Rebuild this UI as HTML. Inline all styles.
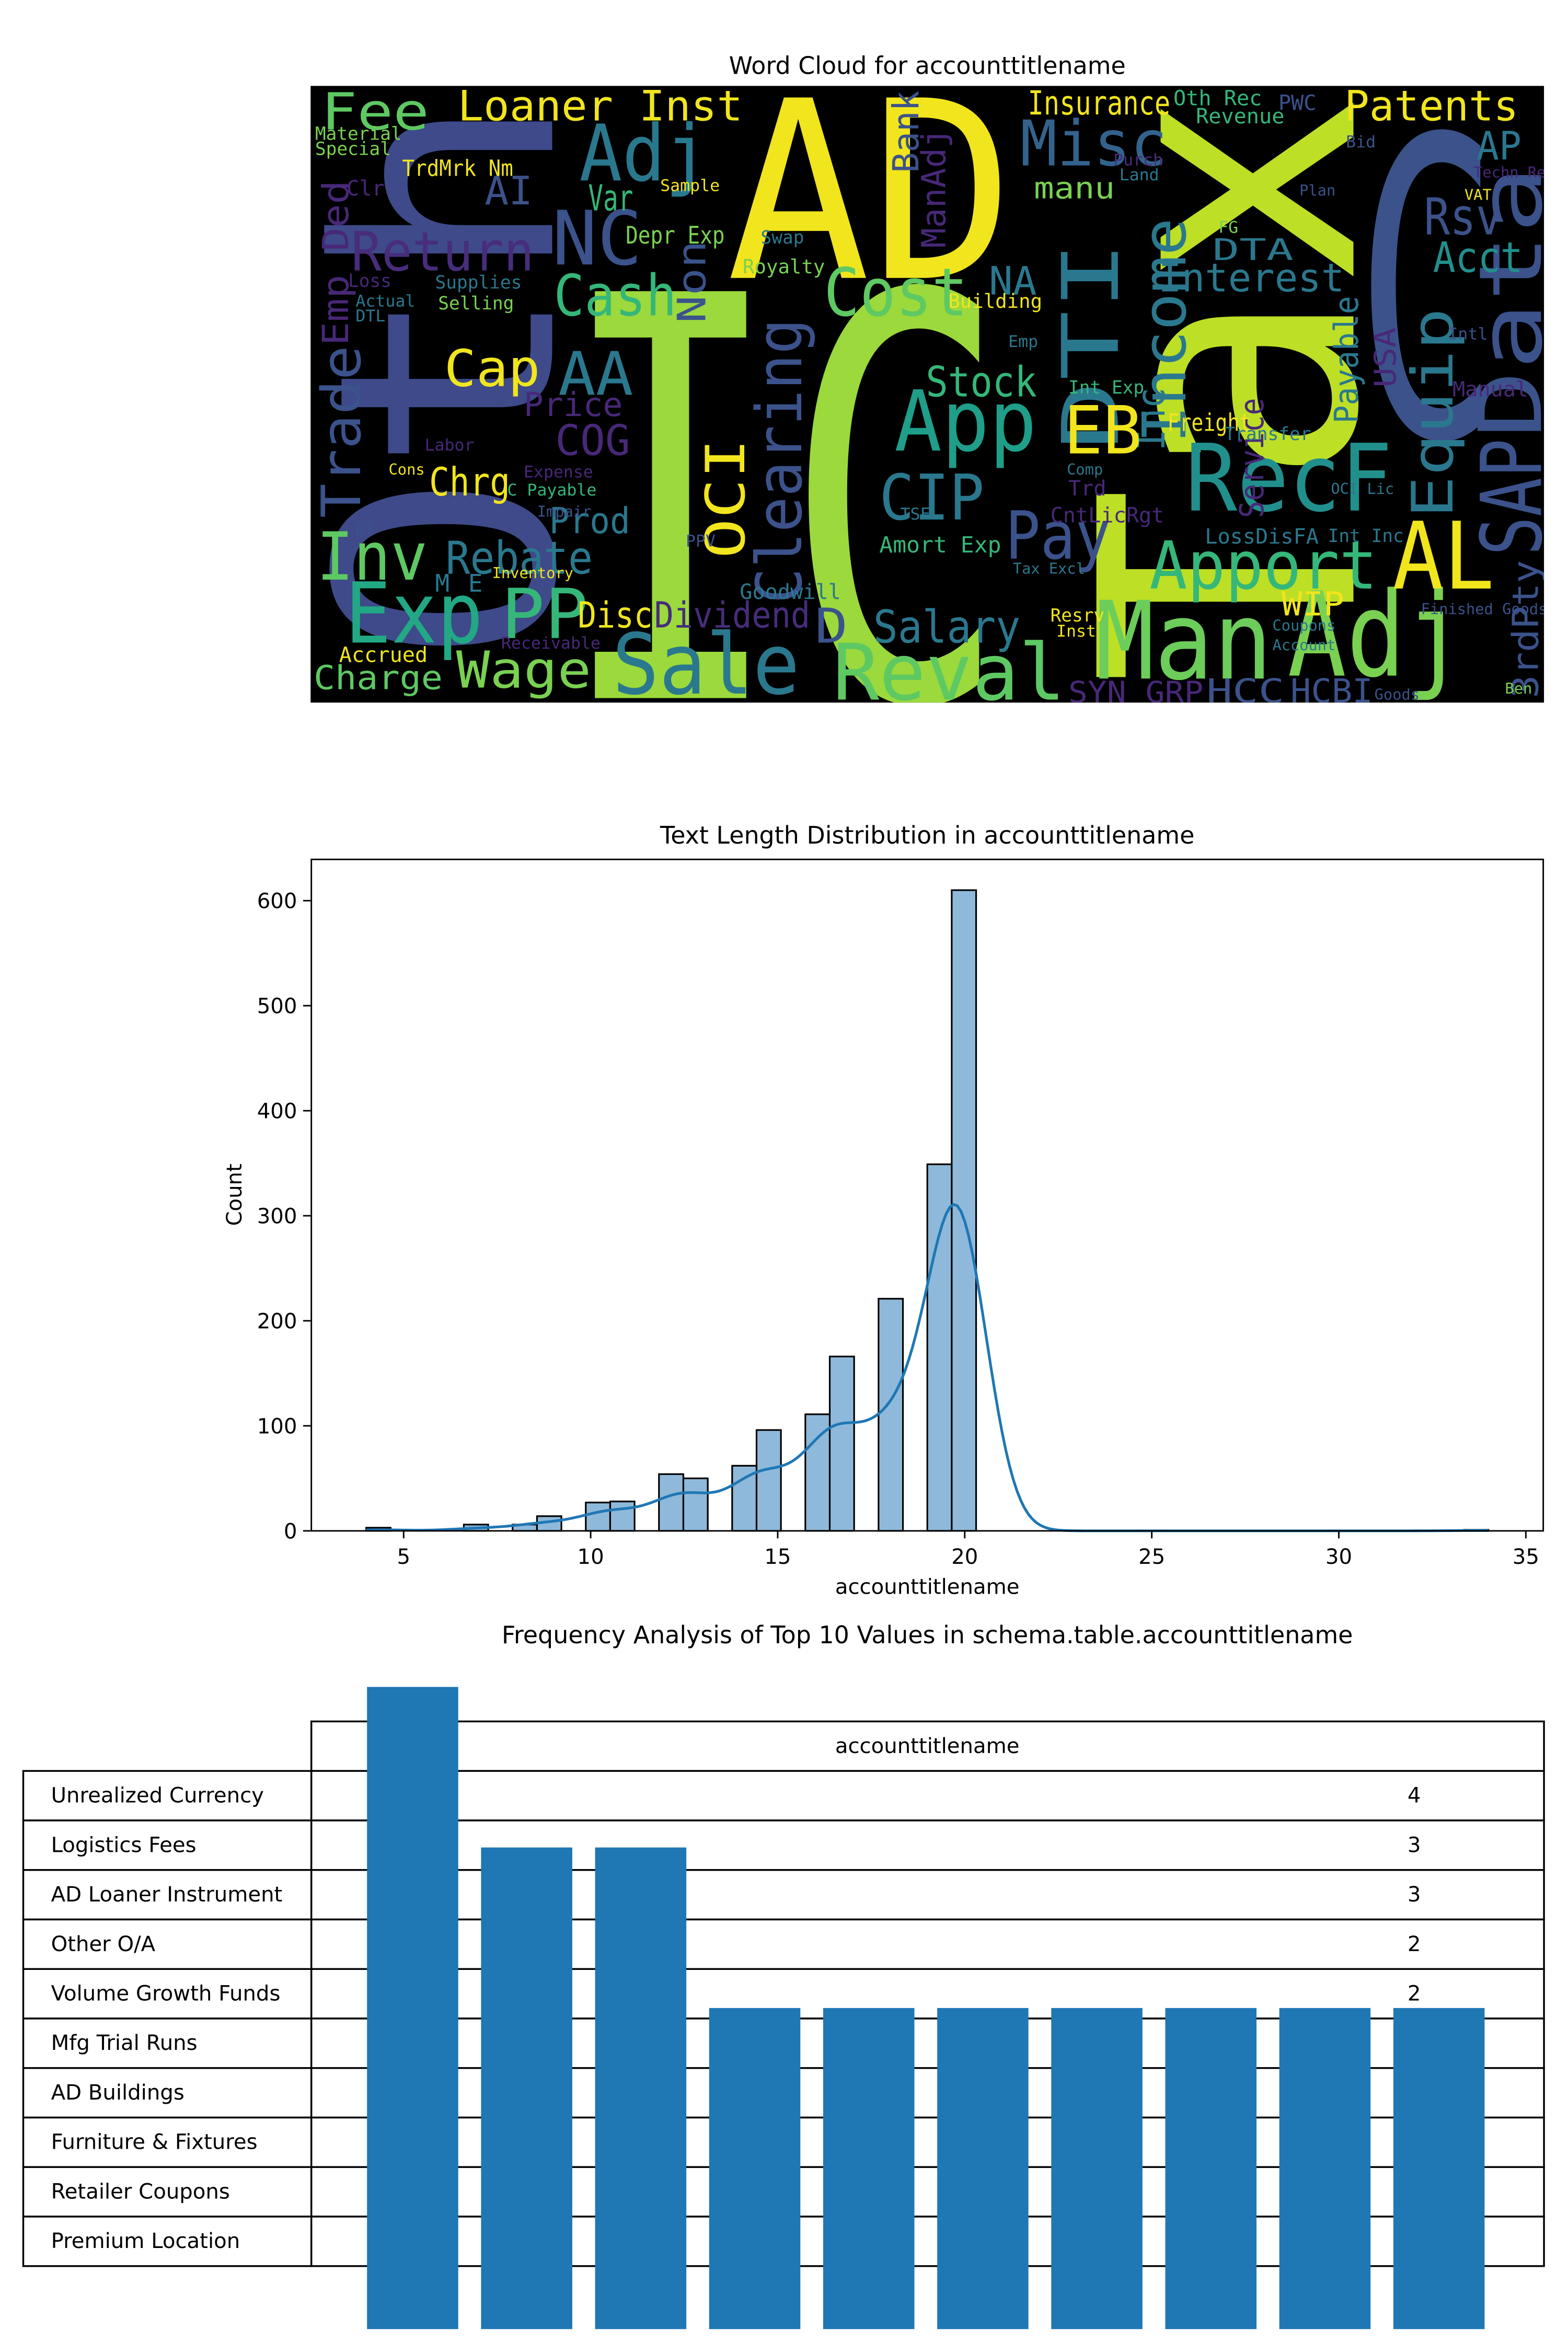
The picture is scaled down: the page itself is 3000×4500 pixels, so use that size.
<!DOCTYPE html>
<html><head><meta charset="utf-8"><style>
html,body{margin:0;padding:0;background:#fff;}
svg{display:block;}
text{font-family:"DejaVu Sans","Liberation Sans",sans-serif;}
.wc text{font-family:"DejaVu Sans Mono","Liberation Mono",monospace;}
</style></head><body>
<svg id="root" xmlns="http://www.w3.org/2000/svg" width="3000" height="4500" viewBox="0 0 1045 1567">
<defs><clipPath id="wcclip"><rect x="207" y="57" width="822" height="411"/></clipPath></defs>
<rect x="0" y="0" width="1045" height="1567" fill="#fff"/>
<!-- Word cloud -->
<text x="618" y="49" font-size="16" text-anchor="middle">Word Cloud for accounttitlename</text>
<rect x="207" y="57" width="822" height="411" fill="#000"/>
<g class="wc" clip-path="url(#wcclip)">
<text transform="translate(368,442) rotate(-90)" font-size="200" fill="#3e4a89" textLength="380" lengthAdjust="spacingAndGlyphs">Oth</text>
<text transform="translate(902,456) rotate(-90)" font-size="235" fill="#bddf26" textLength="396" lengthAdjust="spacingAndGlyphs">Tax</text>
<text x="372" y="465" font-size="372" fill="#9bd93c" textLength="300" lengthAdjust="spacingAndGlyphs">IC</text>
<text x="484" y="185" font-size="165" fill="#f1e51d" textLength="192" lengthAdjust="spacingAndGlyphs">AD</text>
<text x="903" y="290" font-size="275" fill="#3b528b" textLength="96" lengthAdjust="spacingAndGlyphs">C</text>
<text transform="translate(1027,292) rotate(-90)" font-size="58" fill="#3b528b" textLength="182" lengthAdjust="spacingAndGlyphs">Data</text>
<text transform="translate(1027,370) rotate(-90)" font-size="56" fill="#3b528b" textLength="78" lengthAdjust="spacingAndGlyphs">SAP</text>
<text x="790" y="340" font-size="62" fill="#21908d" textLength="138" lengthAdjust="spacingAndGlyphs">RecF</text>
<text x="730" y="452" font-size="72" fill="#6ccd5a" textLength="118" lengthAdjust="spacingAndGlyphs">Man</text>
<text x="858" y="450" font-size="78" fill="#7ad151" textLength="118" lengthAdjust="spacingAndGlyphs">Adj</text>
<text x="408" y="462" font-size="56" fill="#2a788e" textLength="125" lengthAdjust="spacingAndGlyphs">Sale</text>
<text x="555" y="466" font-size="52" fill="#5ec962" textLength="155" lengthAdjust="spacingAndGlyphs">Reval</text>
<text x="230" y="428" font-size="56" fill="#22a884" textLength="92" lengthAdjust="spacingAndGlyphs">Exp</text>
<text x="928" y="392" font-size="62" fill="#f1e51d" textLength="68" lengthAdjust="spacingAndGlyphs">AL</text>
<text x="766" y="392" font-size="44" fill="#35b779" textLength="152" lengthAdjust="spacingAndGlyphs">Apport</text>
<text x="596" y="300" font-size="56" fill="#1f9e89" textLength="95" lengthAdjust="spacingAndGlyphs">App</text>
<text x="586" y="346" font-size="42" fill="#2a788e" textLength="70" lengthAdjust="spacingAndGlyphs">CIP</text>
<text x="386" y="120" font-size="52" fill="#2a788e" textLength="86" lengthAdjust="spacingAndGlyphs">Adj</text>
<text x="368" y="176" font-size="50" fill="#3b528b" textLength="60" lengthAdjust="spacingAndGlyphs">NC</text>
<text x="680" y="110" font-size="42" fill="#33638d" textLength="98" lengthAdjust="spacingAndGlyphs">Misc</text>
<text transform="translate(745,300) rotate(-90)" font-size="52" fill="#2a788e" textLength="140" lengthAdjust="spacingAndGlyphs">DTI</text>
<text transform="translate(790,295) rotate(-90)" font-size="40" fill="#2a788e" textLength="150" lengthAdjust="spacingAndGlyphs">Income</text>
<text transform="translate(968,345) rotate(-90)" font-size="38" fill="#2a788e" textLength="140" lengthAdjust="spacingAndGlyphs">Equip</text>
<text x="549" y="210" font-size="44" fill="#5ec962" textLength="96" lengthAdjust="spacingAndGlyphs">Cost</text>
<text x="369" y="210" font-size="38" fill="#35b779" textLength="82" lengthAdjust="spacingAndGlyphs">Cash</text>
<text x="234" y="180" font-size="36" fill="#472d7b" textLength="122" lengthAdjust="spacingAndGlyphs">Return</text>
<text transform="translate(240,345) rotate(-90)" font-size="36" fill="#3b528b" textLength="115" lengthAdjust="spacingAndGlyphs">Trade</text>
<text transform="translate(232,230) rotate(-90)" font-size="24" fill="#482878" textLength="110" lengthAdjust="spacingAndGlyphs">Emp Ded</text>
<text transform="translate(534,402) rotate(-90)" font-size="42" fill="#3b528b" textLength="190" lengthAdjust="spacingAndGlyphs">Clearing</text>
<text transform="translate(496,372) rotate(-90)" font-size="36" fill="#f1e51d" textLength="80" lengthAdjust="spacingAndGlyphs">OCI</text>
<text transform="translate(470,215) rotate(-90)" font-size="26" fill="#3b528b" textLength="55" lengthAdjust="spacingAndGlyphs">Non</text>
<text transform="translate(612,115) rotate(-90)" font-size="24" fill="#3b528b" textLength="55" lengthAdjust="spacingAndGlyphs">Bank</text>
<text transform="translate(630,165) rotate(-90)" font-size="22" fill="#482878" textLength="80" lengthAdjust="spacingAndGlyphs">ManAdj</text>
<text transform="translate(842,345) rotate(-90)" font-size="22" fill="#482878" textLength="80" lengthAdjust="spacingAndGlyphs">Service</text>
<text transform="translate(776,300) rotate(-90)" font-size="26" fill="#2a788e" textLength="42" lengthAdjust="spacingAndGlyphs">Inc</text>
<text transform="translate(905,282) rotate(-90)" font-size="22" fill="#2a788e" textLength="85" lengthAdjust="spacingAndGlyphs">Payable</text>
<text transform="translate(930,258) rotate(-90)" font-size="20" fill="#482878" textLength="40" lengthAdjust="spacingAndGlyphs">USA</text>
<text transform="translate(1025,465) rotate(-90)" font-size="24" fill="#3b528b" textLength="92" lengthAdjust="spacingAndGlyphs">3rdPty</text>
<text x="214" y="86" font-size="34" fill="#5ec962" textLength="72" lengthAdjust="spacingAndGlyphs">Fee</text>
<text x="305" y="80" font-size="28" fill="#f1e51d" textLength="190" lengthAdjust="spacingAndGlyphs">Loaner Inst</text>
<text x="685" y="76" font-size="22" fill="#f1e51d" textLength="95" lengthAdjust="spacingAndGlyphs">Insurance</text>
<text x="896" y="80" font-size="28" fill="#f1e51d" textLength="116" lengthAdjust="spacingAndGlyphs">Patents</text>
<text x="211" y="386" font-size="44" fill="#5ec962" textLength="74" lengthAdjust="spacingAndGlyphs">Inv</text>
<text x="334" y="425" font-size="46" fill="#35b779" textLength="58" lengthAdjust="spacingAndGlyphs">PP</text>
<text x="304" y="458" font-size="34" fill="#7ad151" textLength="90" lengthAdjust="spacingAndGlyphs">Wage</text>
<text x="209" y="459" font-size="22" fill="#5ec962" textLength="86" lengthAdjust="spacingAndGlyphs">Charge</text>
<text x="297" y="382" font-size="30" fill="#2a788e" textLength="98" lengthAdjust="spacingAndGlyphs">Rebate</text>
<text x="670" y="372" font-size="44" fill="#3b528b" textLength="70" lengthAdjust="spacingAndGlyphs">Pay</text>
<text x="582" y="428" font-size="30" fill="#2a788e" textLength="98" lengthAdjust="spacingAndGlyphs">Salary</text>
<text x="436" y="418" font-size="24" fill="#472d7b" textLength="104" lengthAdjust="spacingAndGlyphs">Dividend</text>
<text x="543" y="428" font-size="32" fill="#3b528b" textLength="22" lengthAdjust="spacingAndGlyphs">D</text>
<text x="709" y="302" font-size="44" fill="#f1e51d" textLength="52" lengthAdjust="spacingAndGlyphs">EB</text>
<text x="296" y="257" font-size="34" fill="#f1e51d" textLength="64" lengthAdjust="spacingAndGlyphs">Cap</text>
<text x="372" y="263" font-size="40" fill="#2a788e" textLength="50" lengthAdjust="spacingAndGlyphs">AA</text>
<text x="370" y="303" font-size="28" fill="#482878" textLength="50" lengthAdjust="spacingAndGlyphs">COG</text>
<text x="286" y="330" font-size="26" fill="#f1e51d" textLength="54" lengthAdjust="spacingAndGlyphs">Chrg</text>
<text x="366" y="355" font-size="24" fill="#2a788e" textLength="54" lengthAdjust="spacingAndGlyphs">Prod</text>
<text x="617" y="264" font-size="28" fill="#35b779" textLength="74" lengthAdjust="spacingAndGlyphs">Stock</text>
<text x="772" y="194" font-size="26" fill="#2a788e" textLength="124" lengthAdjust="spacingAndGlyphs">Interest</text>
<text x="949" y="156" font-size="34" fill="#3b528b" textLength="52" lengthAdjust="spacingAndGlyphs">Rsv</text>
<text x="955" y="181" font-size="28" fill="#21908d" textLength="60" lengthAdjust="spacingAndGlyphs">Acct</text>
<text x="984" y="106" font-size="26" fill="#2a788e" textLength="30" lengthAdjust="spacingAndGlyphs">AP</text>
<text x="854" y="410" font-size="22" fill="#f1e51d" textLength="42" lengthAdjust="spacingAndGlyphs">WIP</text>
<text x="860" y="468" font-size="22" fill="#3b528b" textLength="55" lengthAdjust="spacingAndGlyphs">HCBI</text>
<text x="712" y="468" font-size="20" fill="#482878" textLength="90" lengthAdjust="spacingAndGlyphs">SYN GRP</text>
<text x="804" y="468" font-size="22" fill="#3b528b" textLength="52" lengthAdjust="spacingAndGlyphs">HCC</text>
<text x="385" y="418" font-size="24" fill="#f1e51d" textLength="50" lengthAdjust="spacingAndGlyphs">Disc</text>
<text x="392" y="140" font-size="24" fill="#35b779" textLength="30" lengthAdjust="spacingAndGlyphs">Var</text>
<text x="323" y="136" font-size="26" fill="#3b528b" textLength="32" lengthAdjust="spacingAndGlyphs">AI</text>
<text x="659" y="196" font-size="26" fill="#2a788e" textLength="32" lengthAdjust="spacingAndGlyphs">NA</text>
<text x="349" y="277" font-size="22" fill="#482878" textLength="66" lengthAdjust="spacingAndGlyphs">Price</text>
<text x="689" y="132" font-size="20" fill="#7ad151" textLength="54" lengthAdjust="spacingAndGlyphs">manu</text>
<text x="808" y="173" font-size="20" fill="#2a788e" textLength="54" lengthAdjust="spacingAndGlyphs">DTA</text>
<text x="778" y="287" font-size="16" fill="#f1e51d" textLength="56" lengthAdjust="spacingAndGlyphs">Freight</text>
<text x="417" y="162" font-size="16" fill="#7ad151" textLength="66" lengthAdjust="spacingAndGlyphs">Depr Exp</text>
<text x="268" y="117" font-size="15" fill="#f1e51d" textLength="74" lengthAdjust="spacingAndGlyphs">TrdMrk Nm</text>
<text x="495" y="182" font-size="13" fill="#7ad151">Royalty</text>
<text x="632" y="205" font-size="13" fill="#f1e51d">Building</text>
<text x="586" y="368" font-size="15" fill="#35b779">Amort Exp</text>
<text x="493" y="399" font-size="14" fill="#2a788e">Goodwill</text>
<text x="968" y="264" font-size="14" fill="#482878">Manual</text>
<text x="885" y="361" font-size="12" fill="#2a788e">Int Inc</text>
<text x="700" y="348" font-size="14" fill="#482878">CntLicRgt</text>
<text x="803" y="362" font-size="14" fill="#2a788e">LossDisFA</text>
<text x="226" y="441" font-size="14" fill="#f1e51d">Accrued</text>
<text x="210" y="103" font-size="12" fill="#7ad151">Special</text>
<text x="210" y="93" font-size="12" fill="#7ad151">Material</text>
<text x="290" y="192" font-size="12" fill="#2a788e">Supplies</text>
<text x="292" y="206" font-size="12" fill="#7ad151">Selling</text>
<text x="232" y="191" font-size="12" fill="#482878">Loss</text>
<text x="237" y="204" font-size="11" fill="#2a788e">Actual</text>
<text x="237" y="214" font-size="11" fill="#2a788e">DTL</text>
<text x="231" y="130" font-size="14" fill="#482878">Clr</text>
<text x="782" y="70" font-size="14" fill="#35b779">Oth Rec</text>
<text x="797" y="82" font-size="14" fill="#35b779">Revenue</text>
<text x="852" y="73" font-size="14" fill="#3b528b">PWC</text>
<text x="746" y="120" font-size="11" fill="#2a788e">Land</text>
<text x="742" y="110" font-size="11" fill="#472d7b">Purch</text>
<text x="812" y="155" font-size="11" fill="#7ad151">FG</text>
<text x="700" y="414" font-size="12" fill="#f1e51d">Resrv</text>
<text x="816" y="293" font-size="12" fill="#2a788e">Transfer</text>
<text x="712" y="330" font-size="14" fill="#482878">Trd</text>
<text x="712" y="262" font-size="12" fill="#35b779">Int Exp</text>
<text x="440" y="127" font-size="11" fill="#f1e51d">Sample</text>
<text x="507" y="162" font-size="12" fill="#2a788e">Swap</text>
<text x="457" y="364" font-size="11" fill="#3b528b">PPV</text>
<text x="328" y="385" font-size="10" fill="#f1e51d">Inventory</text>
<text x="290" y="394" font-size="16" fill="#2a788e">M</text>
<text x="312" y="394" font-size="16" fill="#2a788e">E</text>
<text x="349" y="318" font-size="11" fill="#482878">Expense</text>
<text x="338" y="330" font-size="11" fill="#35b779">C Payable</text>
<text x="283" y="300" font-size="11" fill="#482878">Labor</text>
<text x="259" y="316" font-size="10" fill="#f1e51d">Cons</text>
<text x="237" y="356" font-size="10" fill="#3b528b">BT</text>
<text x="358" y="344" font-size="10" fill="#3b528b">Impair</text>
<text x="334" y="432" font-size="11" fill="#482878">Receivable</text>
<text x="897" y="98" font-size="11" fill="#3b528b">Bid</text>
<text x="982" y="118" font-size="10" fill="#482878">Techn Rel</text>
<text x="866" y="130" font-size="10" fill="#3b528b">Plan</text>
<text x="976" y="133" font-size="10" fill="#f1e51d">VAT</text>
<text x="965" y="226" font-size="11" fill="#3b528b">Intl</text>
<text x="947" y="409" font-size="10" fill="#3b528b">Finished Goods</text>
<text x="916" y="466" font-size="10" fill="#3b528b">Goods</text>
<text x="1003" y="462" font-size="10" fill="#7ad151">Ben</text>
<text x="848" y="420" font-size="10" fill="#2a788e">Coupons</text>
<text x="848" y="433" font-size="10" fill="#2a788e">Account</text>
<text x="704" y="424" font-size="11" fill="#f1e51d">Inst</text>
<text x="887" y="329" font-size="10" fill="#2a788e">OCI Lic</text>
<text x="675" y="382" font-size="10" fill="#2a788e">Tax Excl</text>
<text x="600" y="346" font-size="11" fill="#2a788e">TSF</text>
<text x="711" y="316" font-size="10" fill="#2a788e">Comp</text>
<text x="672" y="231" font-size="11" fill="#2a788e">Emp</text>
</g>

<!-- Histogram -->
<text x="618" y="562" font-size="16" text-anchor="middle">Text Length Distribution in accounttitlename</text>
<g id="hist"></g>
<rect x="207.5" y="572.5" width="821" height="447.5" fill="none" stroke="#000" stroke-width="1"/>
<text transform="translate(161,796) rotate(-90)" font-size="14" text-anchor="middle">Count</text>
<text x="618" y="1062" font-size="14" text-anchor="middle">accounttitlename</text>

<!-- Bar + table -->
<text x="618" y="1095" font-size="16" text-anchor="middle">Frequency Analysis of Top 10 Values in schema.table.accounttitlename</text>
<g id="table"></g>
<g id="bars"></g>
</svg>
<script>
// Histogram data
const binStart = 4;
const binWidth = 30/46;
const binIndex = [0, 4, 6, 7, 9, 10, 12, 13, 15, 16, 18, 19, 21, 23, 24, 45];
const binCounts = [3, 6, 6, 14, 27, 28, 54, 50, 62, 96, 111, 166, 221, 349, 610, 1];
const xTicks = [5, 10, 15, 20, 25, 30, 35];
const yTicks = [0, 100, 200, 300, 400, 500, 600];
// Frequency data
const freqLabels = ["Unrealized Currency","Logistics Fees","AD Loaner Instrument","Other O/A","Volume Growth Funds","Mfg Trial Runs","AD Buildings","Furniture & Fixtures","Retailer Coupons","Premium Location"];
const freqValues = [4, 3, 3, 2, 2, 2, 2, 2, 2, 2];
const tableValues = ["4","3","3","2","2","","","","",""];

const NS = "http://www.w3.org/2000/svg";
function mk(tag, attrs, parent){const e=document.createElementNS(NS,tag);for(const k in attrs)e.setAttribute(k,attrs[k]);parent.appendChild(e);return e;}
const hx = v => 269 + (v-5)*24.93;
const hy = c => 1020 - c*0.7;
const hist = document.getElementById('hist');
binIndex.forEach((b,i)=>{
  const x0=hx(binStart+b*binWidth), x1=hx(binStart+(b+1)*binWidth);
  const r=mk('rect',{x:x0,y:hy(binCounts[i]),width:x1-x0,height:hy(0)-hy(binCounts[i]),fill:'#8fb9da',stroke:'#000','stroke-width':1.1},hist);
  
  
});
const centers = binIndex.map(b=>binStart+(b+0.5)*binWidth);
const bw = 0.75;
let pts=[];
for(let v=4; v<=34.001; v+=0.1){
  let d=0; centers.forEach((c,i)=>{d+=binCounts[i]*Math.exp(-0.5*((v-c)/bw)**2);});
  d = d/(bw*Math.sqrt(2*Math.PI))*binWidth;
  pts.push(hx(v).toFixed(2)+','+hy(d).toFixed(2));
}
const kde=mk('polyline',{points:pts.join(' '),fill:'none',stroke:'#1f77b4','stroke-width':1.8},hist);


xTicks.forEach(t=>{
  const l=mk('line',{x1:hx(t),x2:hx(t),y1:1020,y2:1025,stroke:'#000','stroke-width':1},hist);
  
  
  const tx=mk('text',{x:hx(t),y:1042,'font-size':14,'text-anchor':'middle'},hist);tx.textContent=t;
  
  
});
yTicks.forEach(t=>{
  const l=mk('line',{x1:202,x2:207,y1:hy(t),y2:hy(t),stroke:'#000','stroke-width':1},hist);
  
  
  const tx=mk('text',{x:198,y:hy(t)+5,'font-size':14,'text-anchor':'end'},hist);tx.textContent=t;
  
  
});
// Table
const tbl=document.getElementById('table');
const rowH=33, tableTop=1147;
mk('rect',{x:207.5,y:tableTop,width:821.5,height:rowH,fill:'#fff',stroke:'#000','stroke-width':1.2},tbl);
const hd=mk('text',{x:618,y:tableTop+21,'font-size':14,'text-anchor':'middle'},tbl);hd.textContent='accounttitlename';


freqLabels.forEach((lab,i)=>{
  const y=tableTop+rowH*(i+1);
  mk('rect',{x:15.5,y:y,width:192,height:rowH,fill:'#fff',stroke:'#000','stroke-width':1.2},tbl);
  mk('rect',{x:207.5,y:y,width:821.5,height:rowH,fill:'#fff',stroke:'#000','stroke-width':1.2},tbl);
  const t=mk('text',{x:34,y:y+21,'font-size':14},tbl);t.textContent=lab;
  
  
  const v=mk('text',{x:938,y:y+21,'font-size':14},tbl);v.textContent=tableValues[i];
  
  
});
// Bars
const bars=document.getElementById('bars');
const by = v => 1552 - v*107;
freqValues.forEach((v,i)=>{
  const cx=275+76*i;
  const r=mk('rect',{x:cx-30.4,y:by(v),width:60.8,height:by(0)-by(v),fill:'#1f77b4'},bars);
  
  
});
</script>
</body></html>
